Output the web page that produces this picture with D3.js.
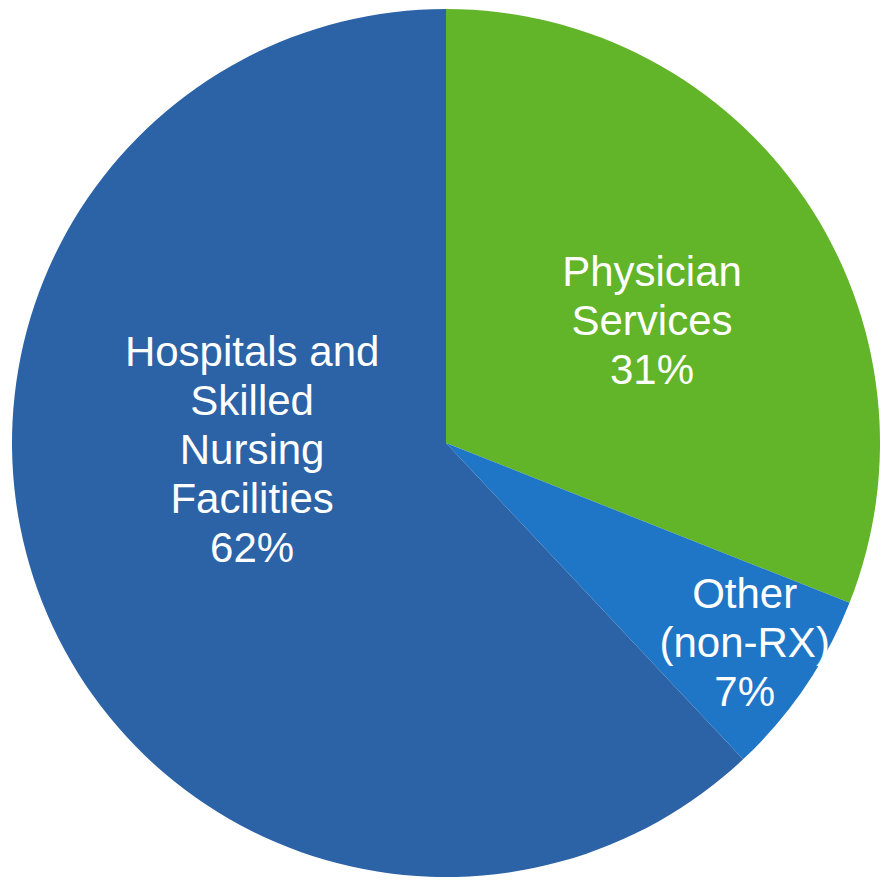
<!DOCTYPE html>
<html>
<head>
<meta charset="utf-8">
<script src="https://cdn.jsdelivr.net/npm/d3@7"></script>
<style>
  html, body { margin: 0; padding: 0; background: #ffffff; }
  svg { display: block; }
</style>
</head>
<body>
<svg id="chart" width="882" height="880"></svg>
<script>
// Share of spending by category (percent)
const categories = ["Physician Services", "Other (non-RX)", "Hospitals and Skilled Nursing Facilities"];
const shares = [31, 7, 62];
const labelLines = [
  ["Physician", "Services"],
  ["Other", "(non-RX)"],
  ["Hospitals and", "Skilled", "Nursing", "Facilities"]
];
const colors = ["#62b428", "#1f76c6", "#2c62a6"];

const width = 882, height = 880;
const cx = 446, cy = 443, radius = 434;

// Label placement: angle within the slice (0..1 of its span) and distance from centre
const labelPlacement = [
  { t: 0.53, r: 240 },
  { t: 0.48, r: 359 },
  { t: 0.588, r: 194 }
];

const svg = d3.select("#chart");
const g = svg.append("g").attr("transform", `translate(${cx},${cy})`);

const pie = d3.pie().sort(null).value(d => d.value);
const arcs = pie(categories.map((c, i) => ({ name: c, value: shares[i], idx: i })));

const arc = d3.arc().innerRadius(0).outerRadius(radius);

g.selectAll("path.slice")
  .data(arcs)
  .join("path")
  .attr("class", "slice")
  .attr("d", arc)
  .attr("fill", d => colors[d.data.idx]);

const fontSize = 42;
const lineH = 49;

arcs.forEach(d => {
  const p = labelPlacement[d.data.idx];
  const a = d.startAngle + (d.endAngle - d.startAngle) * p.t;
  const x = p.r * Math.sin(a);
  const y = -p.r * Math.cos(a);
  const lines = labelLines[d.data.idx].concat([d.data.value + "%"]);
  const text = g.append("text")
    .attr("x", x)
    .attr("y", y)
    .attr("text-anchor", "middle")
    .attr("fill", "#ffffff")
    .style("font-family", "'Liberation Sans', Arial, sans-serif")
    .style("font-size", fontSize + "px");
  const n = lines.length;
  lines.forEach((ln, i) => {
    text.append("tspan")
      .attr("x", x)
      .attr("y", y + (i - (n - 1) / 2) * lineH)
      .attr("dy", "0.35em")
      .text(ln);
  });
});
</script>
</body>
</html>
